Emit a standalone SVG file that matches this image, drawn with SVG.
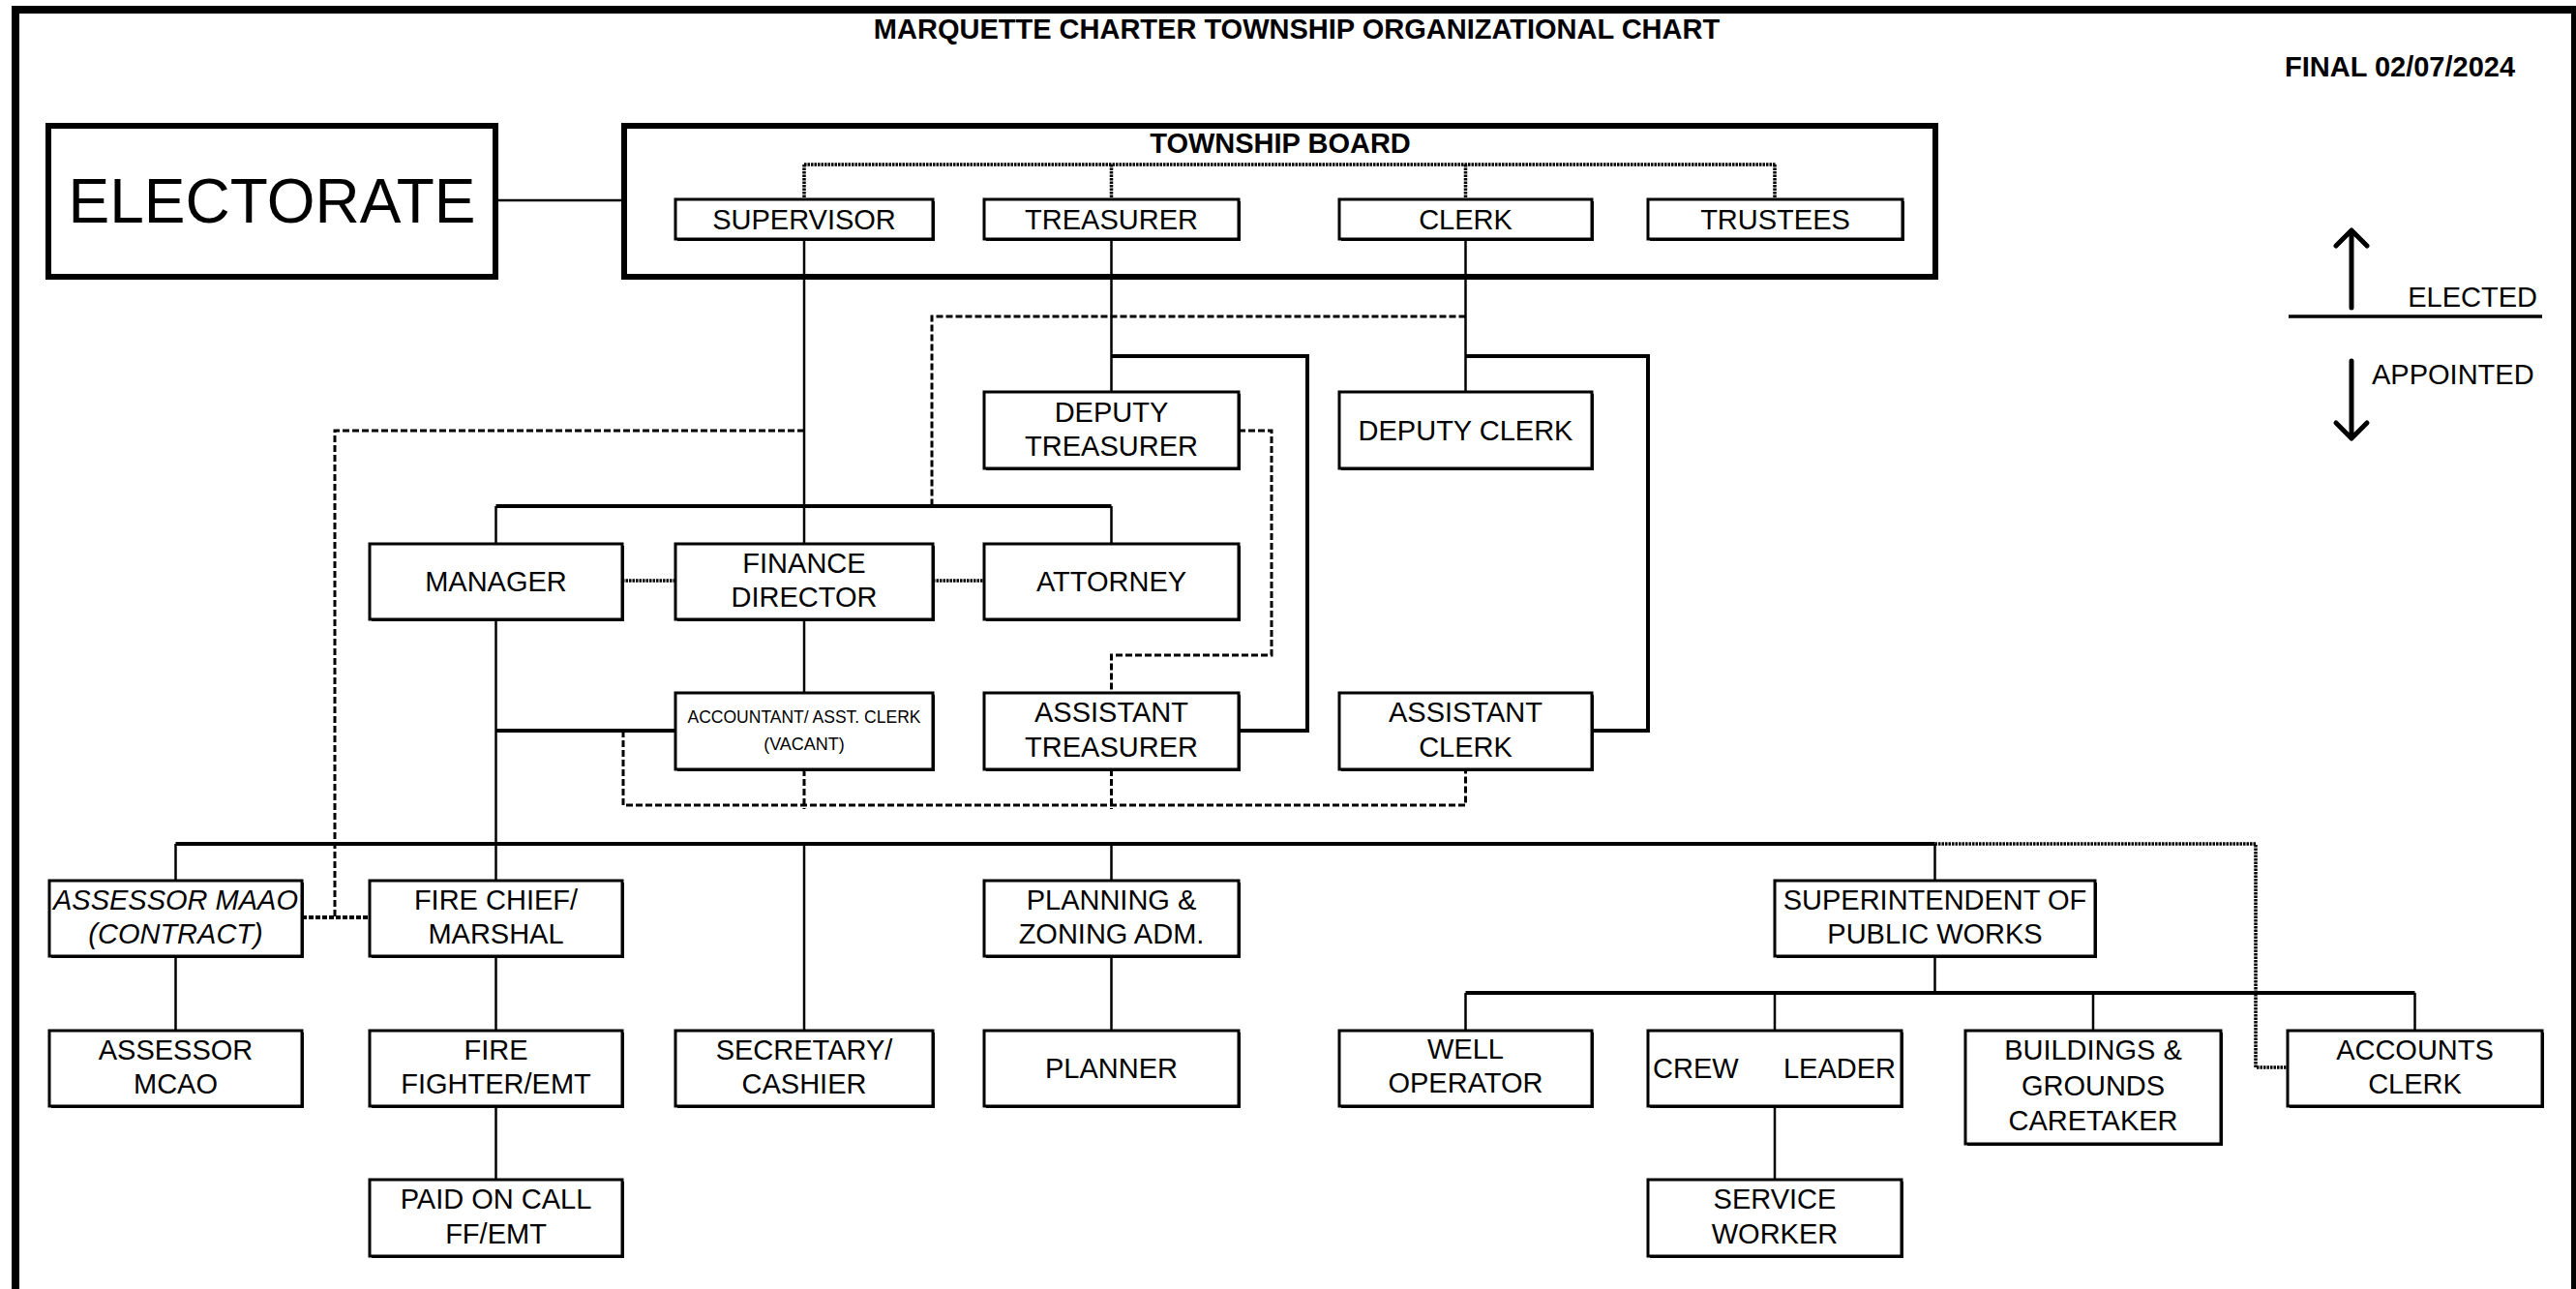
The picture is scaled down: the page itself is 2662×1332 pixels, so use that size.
<svg xmlns="http://www.w3.org/2000/svg" width="2662" height="1332" viewBox="0 0 2662 1332">
<style>
  .frame{fill:none;stroke:#000;stroke-width:8}
  .big{fill:none;stroke:#000;stroke-width:6}
  .box{fill:#fff;stroke:#000;stroke-width:3}
  .sh{fill:#000}
  text{font-family:"Liberation Sans",Arial,sans-serif;fill:#000}
  .t{font-size:29px;text-anchor:middle}
  .b{font-weight:bold;font-size:29px}
  .sm{font-size:18px;text-anchor:middle}
  .it{font-style:italic}
  .sol{fill:none;stroke:#000;stroke-width:2.5}
  .bus{fill:none;stroke:#000;stroke-width:4}
  .dash{fill:none;stroke:#000;stroke-width:3;stroke-dasharray:7 3}
  .dot{fill:none;stroke:#000;stroke-width:3.5;stroke-dasharray:2.5 1}
  .arr{fill:none;stroke:#000;stroke-width:5;stroke-linecap:round;stroke-linejoin:round}
</style>
<rect class="frame" x="16" y="10" width="2645" height="1400"/>
<text class="b" x="1340" y="40" text-anchor="middle">MARQUETTE CHARTER TOWNSHIP ORGANIZATIONAL CHART</text>
<text class="b" x="2361" y="79">FINAL 02/07/2024</text>

<g id="electorate">
  <rect class="big" x="50" y="130" width="462" height="156"/>
  <text x="281" y="230" font-size="64" text-anchor="middle">ELECTORATE</text>
</g>
<g id="township-board">
  <rect class="big" x="645" y="130" width="1355" height="156"/>
  <text class="b" x="1323" y="158" text-anchor="middle">TOWNSHIP BOARD</text>
</g>

<g id="connectors">
  <path class="sol" d="M512,207 H645"/>
  <path class="sol" d="M831,247 V562"/>
  <path class="bus" d="M512.5,523 H1148.5"/>
  <path class="sol" d="M512.5,523 V562 M1148.5,523 V562"/>
  <path class="sol" d="M1148.5,247 V405"/>
  <path class="bus" d="M1148.5,368 H1351 V755 H1280"/>
  <path class="sol" d="M1514.5,247 V405"/>
  <path class="bus" d="M1514.5,368 H1703 V755 H1645"/>
  <path class="sol" d="M831,640 V716"/>
  <path class="sol" d="M512.5,640 V910"/>
  <path class="bus" d="M512.5,755 H698"/>
  <path class="bus" d="M181.5,872 H1999.5"/>
  <path class="sol" d="M181.5,872 V910 M831,872 V1065 M1148.5,872 V910 M1999.5,872 V910"/>
  <path class="sol" d="M181.5,988 V1065 M512.5,988 V1065 M512.5,1143 V1219 M1148.5,988 V1065"/>
  <path class="sol" d="M1999.5,988 V1026"/>
  <path class="bus" d="M1514.5,1026 H2495.5"/>
  <path class="sol" d="M1514.5,1026 V1065 M1834,1026 V1065 M2163,1026 V1065 M2495.5,1026 V1065"/>
  <path class="sol" d="M1834,1143 V1219"/>
  <path class="dash" d="M1514.5,327 H963 V523"/>
  <path class="dash" d="M831,445 H346 V948"/>
  <path class="dash" d="M312,948 H382" style="stroke-width:4;stroke-dasharray:5 2"/>
  <path class="dash" d="M1280,445 H1314 V677 H1148.5 V716"/>
  <path class="dash" d="M644,755 V832 H1514.5 V795 M831,795 V836 M1148.5,795 V836"/>
  <path class="dot" d="M643,600 H698 M964,600 H1017"/>
  <path class="dot" d="M831,170 H1835 M831,170 V206 M1148.5,170 V206 M1514.5,170 V206 M1834,170 V206"/>
  <path class="dot" d="M1999.5,872 H2331 V1103 H2364"/>
</g>

<g id="legend">
  <path class="arr" d="M2430,318 V238 M2414,254 L2430,238 L2446,254"/>
  <path class="arr" d="M2430,373 V453 M2414,437 L2430,453 L2446,437"/>
  <path d="M2365,327 H2627" stroke="#000" stroke-width="3.5"/>
  <text class="t" x="2622" y="317" style="text-anchor:end">ELECTED</text>
  <text class="t" x="2451" y="397" style="text-anchor:start">APPOINTED</text>
</g>

<g id="supervisor"><rect class="sh" x="700" y="208" width="266" height="41"/><rect class="box" x="698" y="206" width="266" height="41"/><text class="t" x="831" y="237">SUPERVISOR</text></g>
<g id="treasurer"><rect class="sh" x="1019" y="208" width="263" height="41"/><rect class="box" x="1017" y="206" width="263" height="41"/><text class="t" x="1148.5" y="237">TREASURER</text></g>
<g id="clerk"><rect class="sh" x="1386" y="208" width="261" height="41"/><rect class="box" x="1384" y="206" width="261" height="41"/><text class="t" x="1514.5" y="237">CLERK</text></g>
<g id="trustees"><rect class="sh" x="1705" y="208" width="263" height="41"/><rect class="box" x="1703" y="206" width="263" height="41"/><text class="t" x="1834.5" y="237">TRUSTEES</text></g>

<g id="deputy-treasurer"><rect class="sh" x="1019" y="407" width="263" height="79"/><rect class="box" x="1017" y="405" width="263" height="79"/><text class="t" x="1148.5" y="436">DEPUTY</text><text class="t" x="1148.5" y="471">TREASURER</text></g>
<g id="deputy-clerk"><rect class="sh" x="1386" y="407" width="261" height="79"/><rect class="box" x="1384" y="405" width="261" height="79"/><text class="t" x="1514.5" y="455">DEPUTY CLERK</text></g>

<g id="manager"><rect class="sh" x="384" y="564" width="261" height="78"/><rect class="box" x="382" y="562" width="261" height="78"/><text class="t" x="512.5" y="611">MANAGER</text></g>
<g id="finance-director"><rect class="sh" x="700" y="564" width="266" height="78"/><rect class="box" x="698" y="562" width="266" height="78"/><text class="t" x="831" y="592">FINANCE</text><text class="t" x="831" y="627">DIRECTOR</text></g>
<g id="attorney"><rect class="sh" x="1019" y="564" width="263" height="78"/><rect class="box" x="1017" y="562" width="263" height="78"/><text class="t" x="1148.5" y="611">ATTORNEY</text></g>

<g id="accountant"><rect class="sh" x="700" y="718" width="266" height="79"/><rect class="box" x="698" y="716" width="266" height="79"/><text class="sm" x="831" y="747" textLength="241" lengthAdjust="spacingAndGlyphs">ACCOUNTANT/ ASST. CLERK</text><text class="sm" x="831" y="775">(VACANT)</text></g>
<g id="assistant-treasurer"><rect class="sh" x="1019" y="718" width="263" height="79"/><rect class="box" x="1017" y="716" width="263" height="79"/><text class="t" x="1148.5" y="746">ASSISTANT</text><text class="t" x="1148.5" y="782">TREASURER</text></g>
<g id="assistant-clerk"><rect class="sh" x="1386" y="718" width="261" height="79"/><rect class="box" x="1384" y="716" width="261" height="79"/><text class="t" x="1514.5" y="746">ASSISTANT</text><text class="t" x="1514.5" y="782">CLERK</text></g>

<g id="assessor-maao"><rect class="sh" x="53" y="912" width="261" height="78"/><rect class="box" x="51" y="910" width="261" height="78"/><text class="t it" x="181.5" y="940">ASSESSOR MAAO</text><text class="t it" x="181.5" y="975">(CONTRACT)</text></g>
<g id="fire-chief"><rect class="sh" x="384" y="912" width="261" height="78"/><rect class="box" x="382" y="910" width="261" height="78"/><text class="t" x="512.5" y="940">FIRE CHIEF/</text><text class="t" x="512.5" y="975">MARSHAL</text></g>
<g id="planning-zoning"><rect class="sh" x="1019" y="912" width="263" height="78"/><rect class="box" x="1017" y="910" width="263" height="78"/><text class="t" x="1148.5" y="940">PLANNING &amp;</text><text class="t" x="1148.5" y="975">ZONING ADM.</text></g>
<g id="superintendent"><rect class="sh" x="1836" y="912" width="331" height="78"/><rect class="box" x="1834" y="910" width="331" height="78"/><text class="t" x="1999.5" y="940">SUPERINTENDENT OF</text><text class="t" x="1999.5" y="975">PUBLIC WORKS</text></g>

<g id="assessor-mcao"><rect class="sh" x="53" y="1067" width="261" height="78"/><rect class="box" x="51" y="1065" width="261" height="78"/><text class="t" x="181.5" y="1095">ASSESSOR</text><text class="t" x="181.5" y="1130">MCAO</text></g>
<g id="fire-fighter"><rect class="sh" x="384" y="1067" width="261" height="78"/><rect class="box" x="382" y="1065" width="261" height="78"/><text class="t" x="512.5" y="1095">FIRE</text><text class="t" x="512.5" y="1130">FIGHTER/EMT</text></g>
<g id="secretary-cashier"><rect class="sh" x="700" y="1067" width="266" height="78"/><rect class="box" x="698" y="1065" width="266" height="78"/><text class="t" x="831" y="1095">SECRETARY/</text><text class="t" x="831" y="1130">CASHIER</text></g>
<g id="planner"><rect class="sh" x="1019" y="1067" width="263" height="78"/><rect class="box" x="1017" y="1065" width="263" height="78"/><text class="t" x="1148.5" y="1114">PLANNER</text></g>
<g id="well-operator"><rect class="sh" x="1386" y="1067" width="261" height="78"/><rect class="box" x="1384" y="1065" width="261" height="78"/><text class="t" x="1514.5" y="1094">WELL</text><text class="t" x="1514.5" y="1129">OPERATOR</text></g>
<g id="crew-leader"><rect class="sh" x="1705" y="1067" width="262" height="78"/><rect class="box" x="1703" y="1065" width="262" height="78"/><text class="t" y="1114"><tspan x="1708" style="text-anchor:start">CREW</tspan><tspan x="1959" style="text-anchor:end">LEADER</tspan></text></g>
<g id="buildings-grounds"><rect class="sh" x="2033" y="1067" width="264" height="117"/><rect class="box" x="2031" y="1065" width="264" height="117"/><text class="t" x="2163" y="1095">BUILDINGS &amp;</text><text class="t" x="2163" y="1132">GROUNDS</text><text class="t" x="2163" y="1168">CARETAKER</text></g>
<g id="accounts-clerk"><rect class="sh" x="2366" y="1067" width="263" height="78"/><rect class="box" x="2364" y="1065" width="263" height="78"/><text class="t" x="2495.5" y="1095">ACCOUNTS</text><text class="t" x="2495.5" y="1130">CLERK</text></g>

<g id="paid-on-call"><rect class="sh" x="384" y="1221" width="261" height="79"/><rect class="box" x="382" y="1219" width="261" height="79"/><text class="t" x="512.5" y="1249">PAID ON CALL</text><text class="t" x="512.5" y="1285">FF/EMT</text></g>
<g id="service-worker"><rect class="sh" x="1705" y="1221" width="262" height="79"/><rect class="box" x="1703" y="1219" width="262" height="79"/><text class="t" x="1834" y="1249">SERVICE</text><text class="t" x="1834" y="1285">WORKER</text></g>
</svg>
